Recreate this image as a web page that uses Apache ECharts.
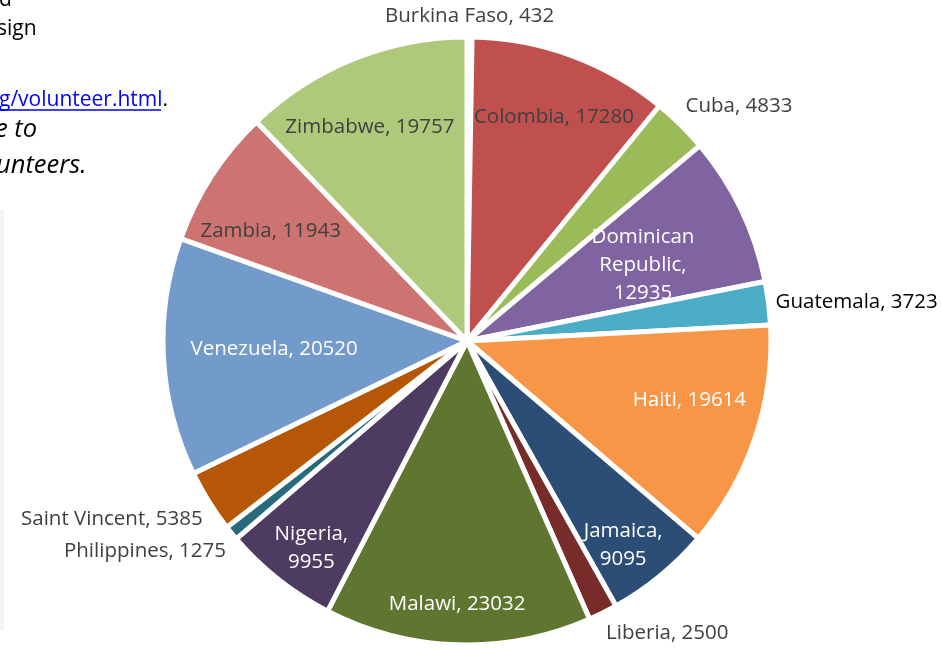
<!DOCTYPE html>
<html>
<head>
<meta charset="utf-8">
<style>
  html, body { margin: 0; padding: 0; background: #fff; }
  #chart { width: 941px; height: 648px; }
</style>
<script src="https://cdn.jsdelivr.net/npm/echarts@6/dist/echarts.min.js"></script>
</head>
<body>
<div id="chart"></div>
<script>
// countries and volunteer counts, clockwise from 12 o'clock
const countries = ['Burkina Faso', 'Colombia', 'Cuba', 'Dominican Republic', 'Guatemala', 'Haiti',
  'Jamaica', 'Liberia', 'Malawi', 'Nigeria', 'Philippines', 'Saint Vincent', 'Venezuela', 'Zambia', 'Zimbabwe']
const values = [432, 17280, 4833, 12935, 3723, 19614, 9095, 2500, 23032, 9955, 1275, 5385, 20520, 11943, 19757]
const labelTexts = ['Burkina Faso, 432', 'Colombia, 17280', 'Cuba, 4833', 'Dominican\nRepublic,\n12935',
  'Guatemala, 3723', 'Haiti, 19614', 'Jamaica,\n9095', 'Liberia, 2500', 'Malawi, 23032', 'Nigeria,\n9955',
  'Philippines, 1275', 'Saint Vincent, 5385', 'Venezuela, 20520', 'Zambia, 11943', 'Zimbabwe, 19757']

const colors = ['#4F81BD', '#C0504D', '#9BBB59', '#8064A2', '#4BACC6', '#F79646', '#2C4D75', '#772C2A',
  '#5F7530', '#4D3B62', '#276A7C', '#B65708', '#729ACA', '#CD7371', '#AFC97A']
// label placement: null = outside, else [fraction of radius, angle shift in degrees]
const labelPlace = [null, [0.79, 1.1], null, [0.63, 2.4], null, [0.757, -3.8], [0.845, 2], null,
  [0.865, 0.4], [0.852, -1.4], null, null, [0.635, 0.7], [0.74, -3.7], [0.773, -2.5]]
const labelColors = ['#404040', '#404040', '#404040', '#fff', '#000', '#fff', '#fff', '#404040',
  '#fff', '#fff', '#404040', '#404040', '#fff', '#404040', '#404040']

const cx = 467
const cy = 341
const radius = 304
const outGap = 7
const font = '"Open Sans", "Noto Sans", sans-serif'
const docFont = '21px ' + font
const docItalic = 'italic 25.5px ' + font

const chart = echarts.init(document.getElementById('chart'))

const data = countries.map((name, i) => ({
  name,
  value: values[i],
  itemStyle: { color: colors[i] },
  label: {
    position: labelPlace[i] ? 'inside' : 'outside',
    color: labelColors[i],
    formatter: () => labelTexts[i]
  },
  labelLine: { show: false, length: 10, length2: 0 }
}))

const clamp = v => Math.max(0, Math.min(1, v))

chart.setOption({
  animation: false,
  graphic: [
    { type: 'text', x: -1, y: -10, style: { text: 'd', font: docFont, fill: '#000' } },
    { type: 'text', x: -3, y: 19, style: { text: 'sign', font: docFont, fill: '#000' } },
    {
      type: 'text', x: -1, y: 90,
      style: {
        text: '{a|g/volunteer.html}.', font: docFont, fill: '#000',
        rich: { a: { fill: '#0000FF', font: docFont } }
      }
    },
    { type: 'line', shape: { x1: 0, y1: 110, x2: 161, y2: 110 }, style: { stroke: '#0000FF', lineWidth: 1.5 } },
    { type: 'text', x: -5, y: 117, style: { text: 'e to', font: docItalic, fill: '#000' } },
    { type: 'text', x: -4, y: 153, style: { text: 'unteers.', font: docItalic, fill: '#000' } },
    { type: 'rect', shape: { x: 0, y: 210, width: 4, height: 420 }, style: { fill: '#f8f2f2' } }
  ],
  series: [{
    type: 'pie',
    center: [cx, cy],
    radius: radius,
    startAngle: 90,
    clockwise: true,
    avoidLabelOverlap: false,
    itemStyle: { borderColor: '#fff', borderWidth: 5 },
    label: {
      fontFamily: font,
      fontSize: 20.5,
      lineHeight: 28
    },
    emphasis: { disabled: true },
    labelLayout: params => {
      const i = params.dataIndex
      const r = params.labelRect
      const mx = r.x + r.width / 2
      const my = r.y + r.height / 2
      const place = labelPlace[i]
      if (!place) {
        // outside: put the nearest corner of the text box just beyond the rim
        const p = params.labelLinePoints[0]
        const a = Math.atan2(p[0] - cx, cy - p[1])
        const s = Math.sin(a)
        const c = Math.cos(a)
        const ax = cx + (radius + outGap) * s
        const ay = cy - (radius + outGap) * c
        const fx = Math.sign(s) * clamp((Math.abs(s) - 0.05) * 4)
        const fy = -Math.sign(c) * clamp((Math.abs(c) - 0.15) * 4)
        return { dx: ax + fx * r.width / 2 - mx, dy: ay + fy * r.height / 2 - my }
      }
      const a = Math.atan2(mx - cx, cy - my) + place[1] * Math.PI / 180
      const d = place[0] * radius
      return { dx: cx + d * Math.sin(a) - mx, dy: cy - d * Math.cos(a) - my }
    },
    data
  }]
})
</script>
</body>
</html>
